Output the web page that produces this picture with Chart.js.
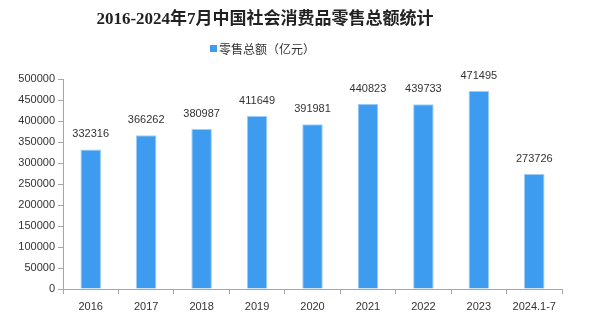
<!DOCTYPE html>
<html>
<head>
<meta charset="utf-8">
<script src="https://cdn.jsdelivr.net/npm/chart.js@4"></script>
<style>
  html, body { margin: 0; padding: 0; background: #fff; }
  #wrap { width: 591px; height: 323px; position: relative; }
</style>
</head>
<body>
<div id="wrap"><canvas id="retailChart"></canvas></div>
<script>
// ---- data ----
const years = ['2016', '2017', '2018', '2019', '2020', '2021', '2022', '2023', '2024.1-7'];
const retailTotal = [332316, 366262, 380987, 411649, 391981, 440823, 439733, 471495, 273726];
const yTicks = [0, 50000, 100000, 150000, 200000, 250000, 300000, 350000, 400000, 450000, 500000];
const titleText = '2016-2024年7月中国社会消费品零售总额统计';
const seriesName = '零售总额（亿元）';

const barColor = '#3d9bf0';
const textColor = '#333';
const axisColor = '#a6a6a6';

// title + legend drawn at fixed spot (the original sits a bit left of centre)
const headerPlugin = {
    id: 'header',
    afterDraw(chart) {
        const ctx = chart.ctx;
        ctx.save();
        ctx.fillStyle = '#222';
        ctx.font = 'bold 17px "Liberation Serif", "Noto Sans CJK SC", serif';
        ctx.textAlign = 'center';
        ctx.textBaseline = 'middle';
        ctx.fillText(titleText, 265, 20);

        ctx.font = '12px "Noto Sans CJK SC", sans-serif';
        ctx.textAlign = 'left';
        ctx.fillStyle = barColor;
        ctx.fillRect(210, 45, 7, 7);
        ctx.fillStyle = textColor;
        ctx.fillText(seriesName, 219, 49);
        ctx.restore();
    }
};

// value labels on top of the bars
const valueLabels = {
    id: 'valueLabels',
    afterDatasetsDraw(chart) {
        const ctx = chart.ctx;
        const meta = chart.getDatasetMeta(0);
        ctx.save();
        ctx.font = '11px "Liberation Sans", "DejaVu Sans", sans-serif';
        ctx.fillStyle = textColor;
        ctx.textAlign = 'center';
        ctx.textBaseline = 'middle';
        meta.data.forEach((bar, i) => {
            ctx.fillText(String(retailTotal[i]), bar.x, bar.y - 15);
        });
        ctx.restore();
    }
};

new Chart(document.getElementById('retailChart'), {
    type: 'bar',
    data: {
        labels: years,
        datasets: [{
            label: seriesName,
            data: retailTotal,
            backgroundColor: barColor,
            borderColor: '#9fcdf8',
            borderWidth: 1,
            categoryPercentage: 1,
            barPercentage: 0.37
        }]
    },
    options: {
        responsive: true,
        maintainAspectRatio: false,
        animation: false,
        layout: { padding: { top: 79, right: 29, left: 0, bottom: 0 } },
        plugins: {
            legend: { display: false },
            title: { display: false },
            tooltip: { enabled: false }
        },
        scales: {
            x: {
                afterFit: s => { s.height = 34; },
                grid: {
                    drawOnChartArea: false,
                    drawTicks: true,
                    tickLength: 5,
                    color: axisColor
                },
                border: { display: true, color: axisColor },
                ticks: {
                    color: textColor,
                    padding: 6,
                    maxRotation: 0,
                    autoSkip: false,
                    font: { size: 11, family: '"Liberation Sans", "DejaVu Sans", sans-serif' }
                }
            },
            y: {
                min: 0,
                max: 500000,
                afterFit: s => { s.width = 63; },
                afterBuildTicks: s => { s.ticks = yTicks.map(v => ({ value: v })); },
                grid: {
                    drawOnChartArea: false,
                    drawTicks: true,
                    tickLength: 5,
                    color: axisColor
                },
                border: { display: true, color: axisColor },
                ticks: {
                    color: textColor,
                    padding: 3,
                    callback: v => String(v),
                    font: { size: 11, family: '"Liberation Sans", "DejaVu Sans", sans-serif' }
                }
            }
        }
    },
    plugins: [valueLabels, headerPlugin]
});
</script>
</body>
</html>
